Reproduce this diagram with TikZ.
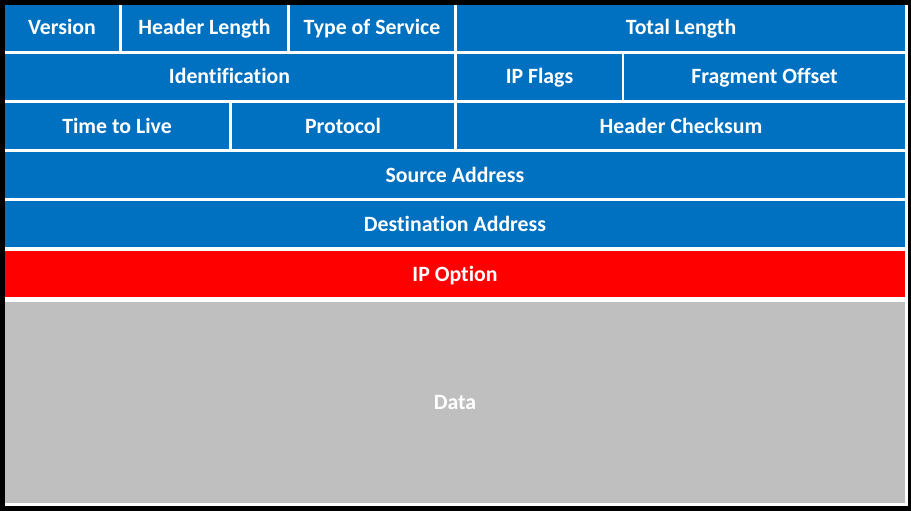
\documentclass[tikz,border=0pt]{standalone}
\usepackage{fontspec}
\setmainfont[Ligatures=NoCommon]{Carlito}
\begin{document}
\begin{tikzpicture}[x=1pt,y=-1pt,
  field/.style={rectangle, anchor=north west, inner sep=0pt, outer sep=0pt,
    text=white, text height=14pt, text depth=0pt,
    font=\fontsize{21.8}{24}\selectfont\bfseries},
  hdr/.style={field, fill=ipblue},
  opt/.style={field, fill=ipred},
  payload/.style={field, fill=ipgray},
]
\definecolor{ipblue}{HTML}{0070C0}
\definecolor{ipred}{HTML}{FF0000}
\definecolor{ipgray}{HTML}{BFBFBF}
% frame
\fill[black] (0,0) rectangle (911,511);
\useasboundingbox (0,0) rectangle (911,511);
\fill[white] (5,5) rectangle (908,506);
% row 1
\node[hdr, minimum width=114pt, minimum height=46pt] (version) at (5,5) {Version};
\node[hdr, minimum width=165pt, minimum height=46pt] (ihl) at (122,5) {Header Length};
\node[hdr, minimum width=164pt, minimum height=46pt] (tos) at (290,5) {Type of Service};
\node[hdr, minimum width=448pt, minimum height=46pt] (totlen) at (457,5) {Total Length};
% row 2
\node[hdr, minimum width=449pt, minimum height=46pt] (ident) at (5,54) {Identification};
\node[hdr, minimum width=165pt, minimum height=46pt] (flags) at (457,54) {IP Flags};
\node[hdr, minimum width=281pt, minimum height=46pt] (fragoff) at (624,54) {Fragment Offset};
% row 3
\node[hdr, minimum width=224pt, minimum height=46pt] (ttl) at (5,103) {Time to Live};
\node[hdr, minimum width=222pt, minimum height=46pt] (proto) at (232,103) {Protocol};
\node[hdr, minimum width=448pt, minimum height=46pt] (cksum) at (457,103) {Header Checksum};
% rows 4-5
\node[hdr, minimum width=900pt, minimum height=46pt] (src) at (5,152) {Source Address};
\node[hdr, minimum width=900pt, minimum height=46pt] (dst) at (5,201) {Destination Address};
% options and payload
\node[opt, minimum width=900pt, minimum height=46pt] (options) at (5,251) {IP Option};
\node[payload, minimum width=900pt, minimum height=201pt] (data) at (5,302) {Data};
\end{tikzpicture}
\end{document}
